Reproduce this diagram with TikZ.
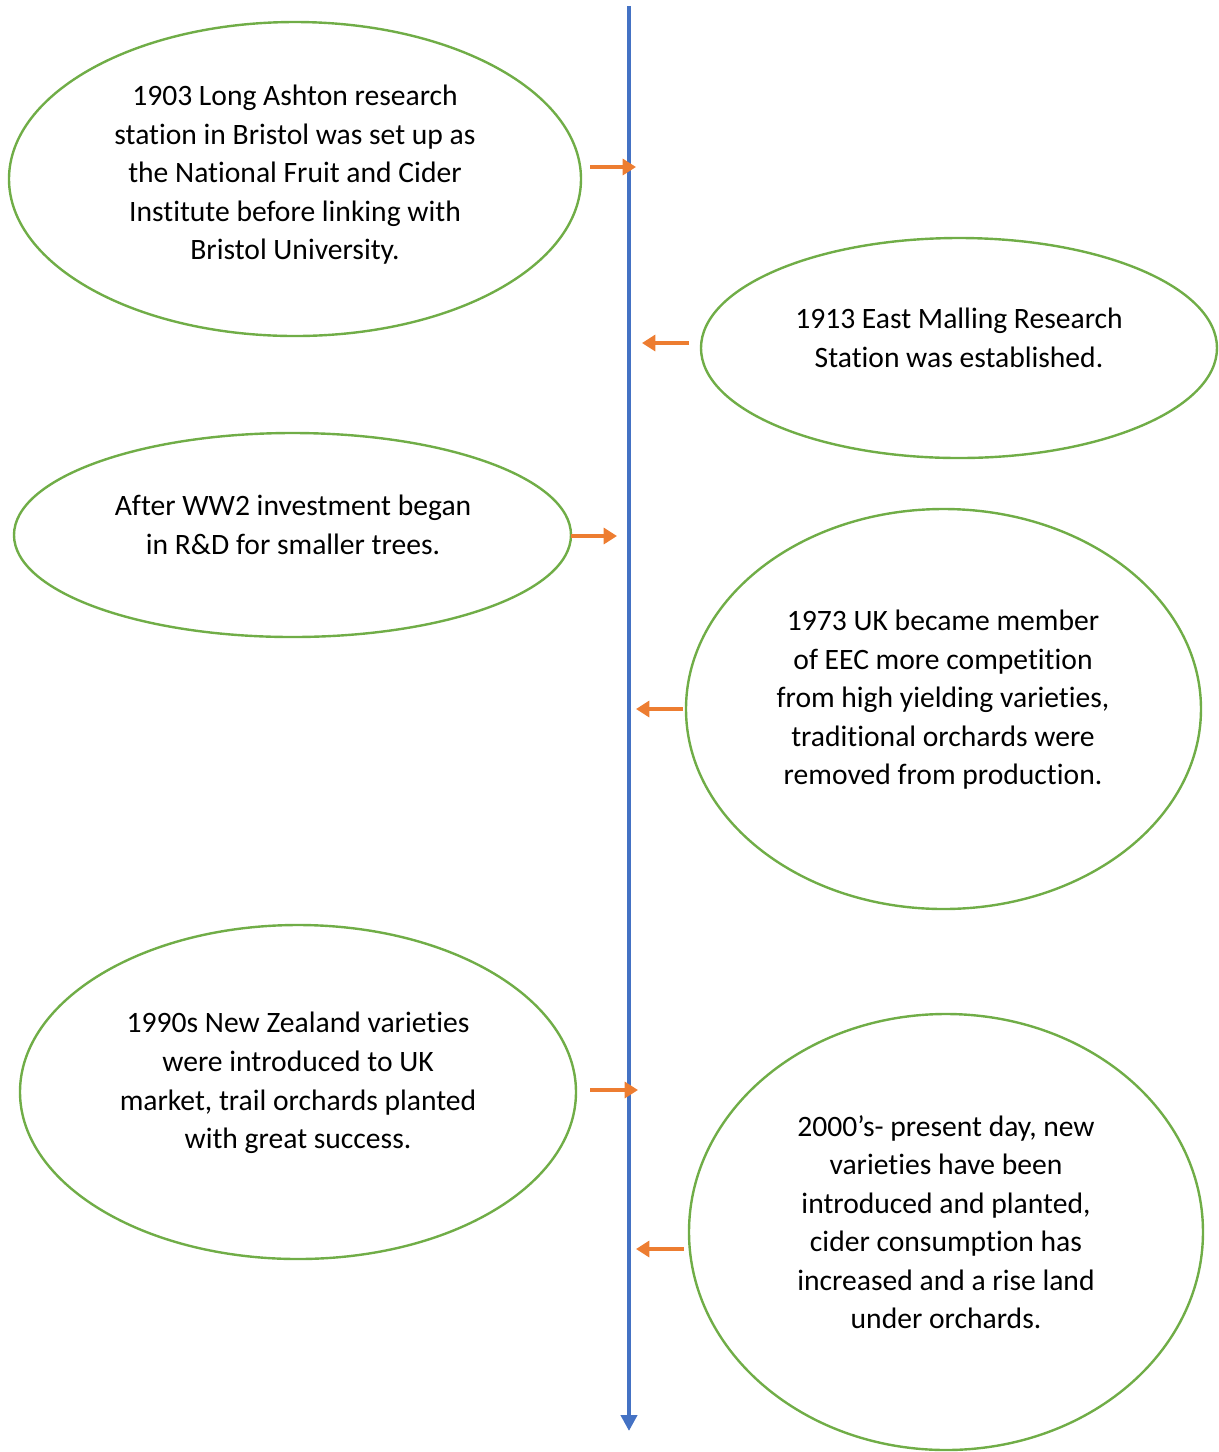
\documentclass[tikz,border=0pt]{standalone}
\usepackage{fontspec}
\setmainfont{Carlito}[Ligatures=NoCommon]
\usetikzlibrary{arrows.meta,shapes.geometric}
\definecolor{egreen}{HTML}{70AD47}
\definecolor{eblue}{HTML}{4472C4}
\definecolor{eorange}{HTML}{ED7D31}
\begin{document}
\begin{tikzpicture}[x=0.375pt,y=-0.375pt,
  ev/.style={draw=egreen,line width=0.9pt,ellipse,inner sep=0pt,outer sep=0pt},
  lbl/.style={align=center,font=\fontsize{11.1}{14.45}\selectfont,text=black},
  conn/.style={draw=eorange,line width=1.2pt,-{Triangle[length=5pt,width=6pt]}},
  axis/.style={draw=eblue,line width=1.5pt,-{Triangle[length=6pt,width=6pt]}}]
\useasboundingbox (0,0) rectangle (1219,1452);
% ellipses
\node[ev,minimum width=572*0.375pt,minimum height=314*0.375pt] (e1) at (295,179) {};
\node[ev,minimum width=516*0.375pt,minimum height=220*0.375pt] (e2) at (959,348) {};
\node[ev,minimum width=557*0.375pt,minimum height=204*0.375pt] (e3) at (292.5,535) {};
\node[ev,minimum width=515*0.375pt,minimum height=400*0.375pt] (e4) at (943.5,709) {};
\node[ev,minimum width=556*0.375pt,minimum height=334*0.375pt] (e5) at (298,1092) {};
\node[ev,minimum width=514*0.375pt,minimum height=436*0.375pt] (e6) at (946,1232) {};
% labels
\node[lbl] (t1) at (295,175) {1903 Long Ashton research\\station in Bristol was set up as\\the National Fruit and Cider\\Institute before linking with\\Bristol University.};
\node[lbl] (t2) at (959,338) {1913 East Malling Research\\Station was established.};
\node[lbl] (t3) at (293,525) {After WW2 investment began\\in R\&D for smaller trees.};
\node[lbl] (t4) at (943,700) {1973 UK became member\\of EEC more competition\\from high yielding varieties,\\traditional orchards were\\removed from production.};
\node[lbl] (t5) at (298,1083) {1990s New Zealand varieties\\were introduced to UK\\market, trail orchards planted\\with great success.};
\node[lbl] (t6) at (946,1222) {2000’s- present day, new\\varieties have been\\introduced and planted,\\cider consumption has\\increased and a rise land\\under orchards.};
% timeline
\coordinate (top) at (629,6);
\coordinate (bot) at (629,1431);
\draw[axis] (top) -- (bot);
% orange arrows
\coordinate (a1s) at (590,167); \coordinate (a1e) at (636,167);
\coordinate (a2s) at (689,343); \coordinate (a2e) at (642,343);
\coordinate (a3s) at (571,536); \coordinate (a3e) at (617,536);
\coordinate (a4s) at (683,709); \coordinate (a4e) at (636,709);
\coordinate (a5s) at (590,1090); \coordinate (a5e) at (638,1090);
\coordinate (a6s) at (684,1249); \coordinate (a6e) at (636,1249);
\draw[conn] (a1s) -- (a1e);
\draw[conn] (a2s) -- (a2e);
\draw[conn] (a3s) -- (a3e);
\draw[conn] (a4s) -- (a4e);
\draw[conn] (a5s) -- (a5e);
\draw[conn] (a6s) -- (a6e);
\end{tikzpicture}
\end{document}
